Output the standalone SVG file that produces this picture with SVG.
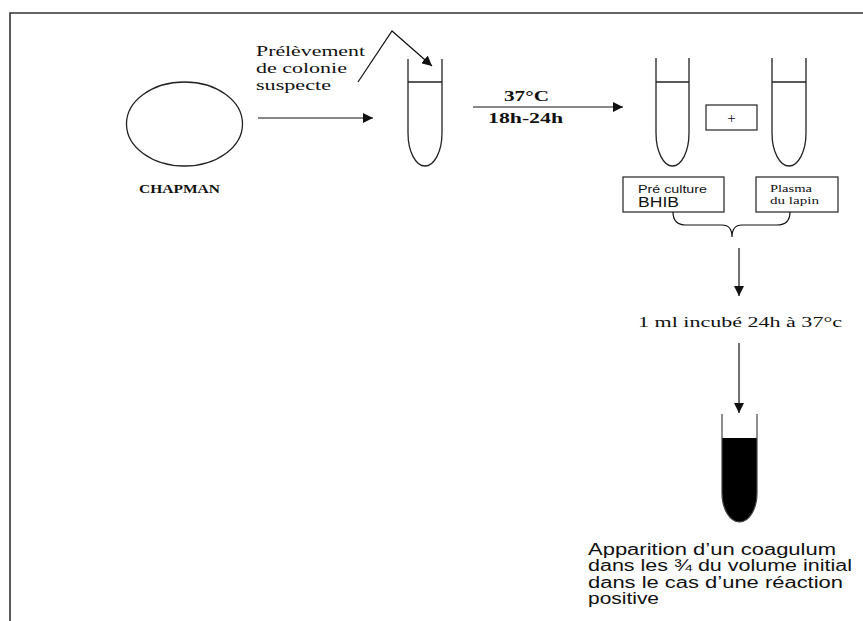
<svg xmlns="http://www.w3.org/2000/svg" width="863" height="621" viewBox="0 0 863 621">
<style>
.line{stroke:#111;stroke-width:1.2;fill:none}
.tube{stroke:#222;stroke-width:1.3;fill:none}
.box{stroke:#222;stroke-width:1.2;fill:#fff}
.serif{font-family:"Liberation Serif","Times New Roman",serif;fill:#111}
.sans{font-family:"Liberation Sans",Arial,sans-serif;fill:#111}
.b{font-weight:bold}
</style>
<defs>
<marker id="ah" viewBox="0 0 10 10" refX="10" refY="5" markerWidth="10" markerHeight="10" markerUnits="userSpaceOnUse" orient="auto">
<path d="M0,0 L10,5 L0,10 Z" fill="#111"/>
</marker>
</defs>
<rect width="863" height="621" fill="#fff"/>
<g id="frame">
<path d="M10,621 V13 H863" stroke="#333" stroke-width="1.6" fill="none"/>
</g>
<g id="chapman">
<ellipse cx="184.5" cy="124" rx="58" ry="42" class="tube"/>
<text x="139" y="193" class="serif b" font-size="12" textLength="81" lengthAdjust="spacingAndGlyphs">CHAPMAN</text>
</g>
<g id="label-prelevement">
<text class="serif" font-size="14.5">
<tspan x="256" y="56" textLength="109" lengthAdjust="spacingAndGlyphs">Prélèvement</tspan>
<tspan x="256" y="73" textLength="91" lengthAdjust="spacingAndGlyphs">de colonie</tspan>
<tspan x="256" y="90" textLength="75" lengthAdjust="spacingAndGlyphs">suspecte</tspan>
</text>
</g>
<g id="tube1">
<path d="M408,59 V133 A17,33 0 0 0 442,133 V59" class="tube"/>
<line x1="408" y1="82" x2="442" y2="82" class="tube"/>
</g>
<g id="label-incubation">
<text x="504" y="101" class="serif b" font-size="14" textLength="45" lengthAdjust="spacingAndGlyphs">37°C</text>
<text x="488" y="123" class="serif b" font-size="14" textLength="75" lengthAdjust="spacingAndGlyphs">18h-24h</text>
</g>
<g id="tube2">
<path d="M656,58 V133 A16.5,33 0 0 0 689,133 V58" class="tube"/>
<line x1="656" y1="82" x2="689" y2="82" class="tube"/>
</g>
<g id="plus">
<rect x="706" y="105" width="51" height="25" class="box"/>
<text x="731.5" y="123" class="serif" font-size="15" text-anchor="middle">+</text>
</g>
<g id="tube3">
<path d="M772,58 V133 A17,33 0 0 0 806,133 V58" class="tube"/>
<line x1="772" y1="82" x2="806" y2="82" class="tube"/>
</g>
<g id="box-preculture">
<rect x="623" y="177" width="101" height="35" class="box"/>
<text x="638" y="193" class="sans" font-size="11.5" textLength="69" lengthAdjust="spacingAndGlyphs">Pré culture</text>
<text x="638" y="207" class="sans" font-size="14" textLength="41" lengthAdjust="spacingAndGlyphs">BHIB</text>
</g>
<g id="box-plasma">
<rect x="756" y="177" width="82" height="35" class="box"/>
<text x="770" y="192" class="serif" font-size="10.5" textLength="42" lengthAdjust="spacingAndGlyphs">Plasma</text>
<text x="770" y="204" class="serif" font-size="10.5" textLength="49" lengthAdjust="spacingAndGlyphs">du lapin</text>
</g>
<g id="label-incube">
<text x="638" y="327" class="serif" font-size="15" textLength="204" lengthAdjust="spacingAndGlyphs">1 ml incubé 24h à 37°c</text>
</g>
<g id="tube4">
<path d="M722,438 H757 V493 A17.5,29 0 0 1 722,493 Z" fill="#000"/>
<path d="M722,414 V493 A17.5,29 0 0 0 757,493 V414" stroke="#444" stroke-width="1.2" fill="none"/>
</g>
<g id="label-result">
<text class="sans" font-size="16">
<tspan x="588" y="555" textLength="248" lengthAdjust="spacingAndGlyphs">Apparition d’un coagulum</tspan>
<tspan x="588" y="571" textLength="264" lengthAdjust="spacingAndGlyphs">dans les ¾ du volume initial</tspan>
<tspan x="588" y="588" textLength="255" lengthAdjust="spacingAndGlyphs">dans le cas d’une réaction</tspan>
<tspan x="588" y="604" textLength="71" lengthAdjust="spacingAndGlyphs">positive</tspan>
</text>
</g>
<g id="connectors">
<line x1="258" y1="118" x2="373" y2="118" class="line" marker-end="url(#ah)"/>
<polyline points="358,82 392,31 432,66" class="line" marker-end="url(#ah)"/>
<line x1="473" y1="107" x2="623" y2="107" class="line" marker-end="url(#ah)"/>
<path d="M673,212 Q673,225 686,225 H722 Q732,225 732,237 Q732,225 742,225 H777 Q790,225 790,212" class="line"/>
<line x1="739" y1="248" x2="739" y2="296" class="line" stroke="#555" marker-end="url(#ah)"/>
<line x1="739" y1="343" x2="739" y2="413" class="line" stroke="#555" marker-end="url(#ah)"/>
</g>
</svg>
